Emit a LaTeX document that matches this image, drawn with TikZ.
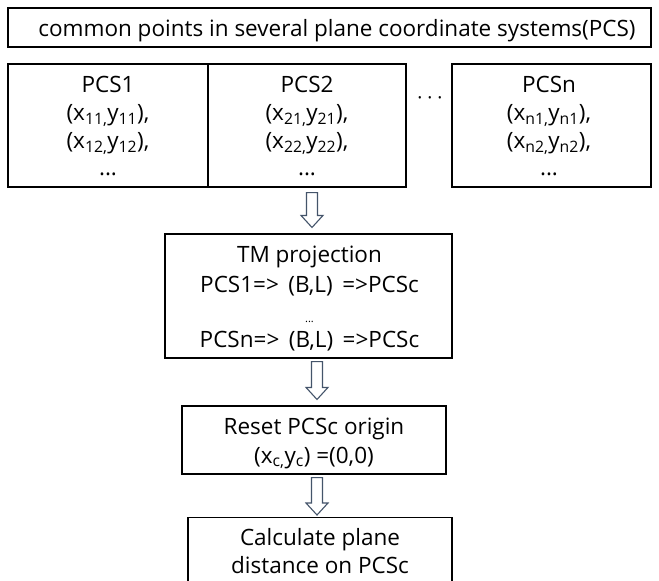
\documentclass[tikz,border=0pt]{standalone}
\usepackage{fontspec}
\setmainfont{Open Sans}
\usetikzlibrary{calc}
\definecolor{arrowc}{HTML}{44546A}
\newcommand\blockarrow[2]{%
  \draw[harrow] let \p1=(#1), \p2=(#2) in
    (\x1-5.5pt,\y1) -- (\x1+5.5pt,\y1) -- (\x1+5.5pt,\y2+12pt) -- (\x1+11pt,\y2+12pt)
    -- (\x1,\y2) -- (\x1-11pt,\y2+12pt) -- (\x1-5.5pt,\y2+12pt) -- cycle;}
\begin{document}
\begin{tikzpicture}[x=1pt,y=-1pt,
  box/.style={draw,line width=1.1pt,inner sep=0pt},
  ln/.style={inner sep=0pt,anchor=base,font=\fontsize{22.5}{27}\selectfont},
  harrow/.style={draw=arrowc,line width=1.1pt,line join=miter}]
\useasboundingbox (0,0) rectangle (659,581);
\clip (0,0) rectangle (659,581);
\fill[white] (0,0) rectangle (659,581);
% boxes
\node[box,minimum width=643pt,minimum height=39pt] (top) at (329.5,27.5) {};
\node[box,minimum width=200pt,minimum height=123pt] (pcs1) at (108,125.5) {};
\node[box,minimum width=198pt,minimum height=123pt] (pcs2) at (307,125.5) {};
\node[box,minimum width=199pt,minimum height=123pt] (pcsn) at (551.5,125.5) {};
\node[box,minimum width=287pt,minimum height=124pt] (tm) at (308.5,296) {};
\node[box,minimum width=264pt,minimum height=68pt] (reset) at (314,440) {};
\node[box,anchor=north,minimum width=264pt,minimum height=90pt] (calc) at (320,517) {};
% texts
\node[ln] (toptext) at (337,36) {common points in several plane coordinate systems(PCS)};
\node[ln] (p1a) at (108,92) {PCS1};
\node[ln] (p1b) at (108,120) {(x\textsubscript{11,}y\textsubscript{11}),};
\node[ln] (p1c) at (108,148) {(x\textsubscript{12,}y\textsubscript{12}),};
\node[ln] (p1d) at (108,175) {...};
\node[ln] (p2a) at (307,92) {PCS2};
\node[ln] (p2b) at (307,120) {(x\textsubscript{21,}y\textsubscript{21}),};
\node[ln] (p2c) at (307,148) {(x\textsubscript{22,}y\textsubscript{22}),};
\node[ln] (p2d) at (307,175) {...};
\node[ln] (pna) at (549,92) {PCSn};
\node[ln] (pnb) at (549,120) {(x\textsubscript{n1,}y\textsubscript{n1}),};
\node[ln] (pnc) at (549,148) {(x\textsubscript{n2,}y\textsubscript{n2}),};
\node[ln] (pnd) at (549,175) {...};
\node[inner sep=0pt,font=\fontsize{19}{26}\selectfont] (dots) at (430,101) {· · ·};
\node[ln] (tma) at (309.5,262) {TM projection};
\node[ln] (tmb) at (309.5,292) {PCS1=>\, (B,L)\, =>PCSc};
\node[ln,font=\fontsize{11}{11}\selectfont] (tmc) at (309.5,322) {...};
\node[ln] (tmd) at (309.5,347) {PCSn=>\, (B,L)\, =>PCSc};
\node[ln] (rsa) at (314,434) {Reset PCSc origin};
\node[ln] (rsb) at (314,463) {(x\textsubscript{c,}y\textsubscript{c}) =(0,0)};
\node[ln] (cla) at (320,545) {Calculate plane};
\node[ln] (clb) at (320,573) {distance on PCSc};
% arrows
\blockarrow{$(pcs2.south)+(5,5)$}{$(tm.north)+(0,-6)$}
\blockarrow{$(tm.south)+(8.5,3)$}{$(reset.north)+(0,-6)$}
\blockarrow{$(reset.south)+(3,3)$}{$(calc.north)+(0,-2)$}
\end{tikzpicture}
\end{document}
